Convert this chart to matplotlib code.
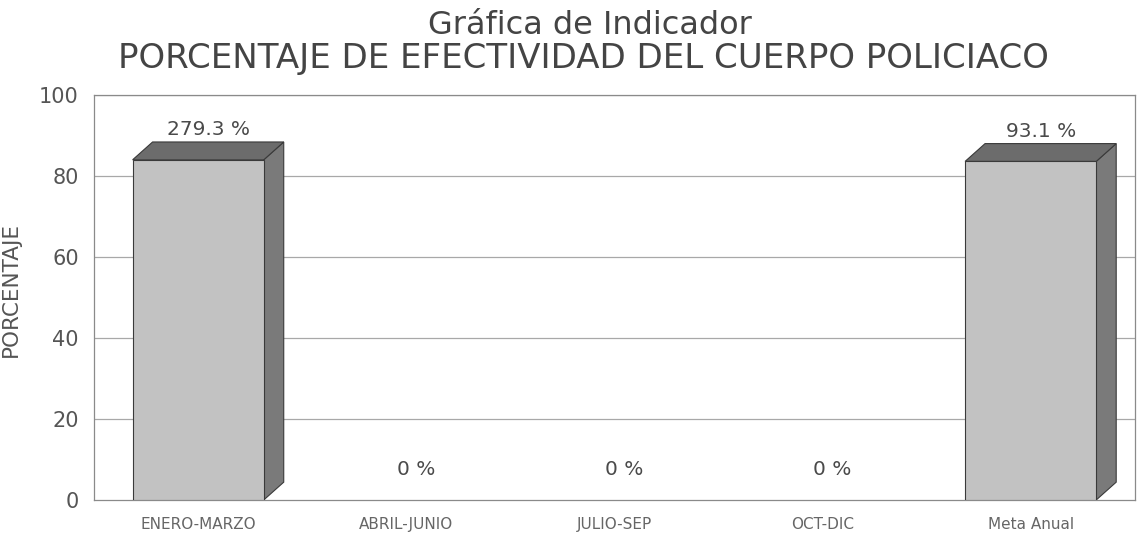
import matplotlib
matplotlib.use("Agg")
import matplotlib.pyplot as plt
from matplotlib.patches import Polygon

categories = ["ENERO-MARZO", "ABRIL-JUNIO", "JULIO-SEP", "OCT-DIC", "Meta Anual"]
bar_heights = [84.0, 0.0, 0.0, 0.0, 83.6]
value_labels = ["279.3 %", "0 %", "0 %", "0 %", "93.1 %"]
y_ticks = [0, 20, 40, 60, 80, 100]

title1 = "Gráfica de Indicador"
title2 = "PORCENTAJE DE EFECTIVIDAD DEL CUERPO POLICIACO"
ylabel = "PORCENTAJE"

fig = plt.figure(figsize=(11.41, 5.51), dpi=100)
ax = fig.add_axes([0.0825, 0.0926, 0.912, 0.735])

x = list(range(len(categories)))
width = 0.63
dx, dy = 0.096, 4.4

ax.set_xlim(-0.5, len(categories) - 0.5)
ax.set_ylim(0, 100)

for yt in y_ticks[1:]:
    ax.axhline(yt, color="#a8a8a8", lw=0.9, zorder=0)

front = "#c2c2c2"
top_c = "#6c6c6c"
side_c = "#7a7a7a"
edge = "#3a3a3a"

bx = [xi for xi, h in zip(x, bar_heights) if h > 0]
bh = [h for h in bar_heights if h > 0]
for xi, h in zip(bx, bh):
    x0 = xi - width / 2
    x1 = xi + width / 2
    ax.add_patch(Polygon([(x1, 0), (x1 + dx, dy), (x1 + dx, h + dy), (x1, h)],
                         closed=True, fc=side_c, ec=edge, lw=0.8, zorder=2))
    ax.add_patch(Polygon([(x0, h), (x0 + dx, h + dy), (x1 + dx, h + dy), (x1, h)],
                         closed=True, fc=top_c, ec=edge, lw=0.8, zorder=2))
ax.bar(bx, bh, width=width, color=front, edgecolor=edge, linewidth=0.8, zorder=3)

for xi, h, lab in zip(x, bar_heights, value_labels):
    ax.text(xi + dx / 2, h + 7.5, lab, ha="center", va="center",
            fontsize=14.5, color="#4a4a4a", zorder=4)

for s in ["left", "top", "right", "bottom"]:
    ax.spines[s].set_color("#8a8a8a")
    ax.spines[s].set_linewidth(0.9)

ax.set_yticks(y_ticks)
ax.set_yticklabels([str(t) for t in y_ticks], fontsize=15, color="#555555")
ax.tick_params(axis="y", length=0, pad=11)
ax.set_xticks(x)
ax.set_xticklabels(categories, fontsize=11, color="#666666")
ax.tick_params(axis="x", length=0, pad=12)
ax.set_ylabel(ylabel, fontsize=15.5, color="#555555", labelpad=12)
ax.yaxis.set_label_coords(-0.07, 0.52)

fig.text(0.517, 0.954, title1, ha="center", va="center", fontsize=23,
         color="#444444")
fig.text(0.511, 0.893, title2, ha="center", va="center", fontsize=24.5,
         color="#444444")

fig.savefig("out.png", dpi=100, facecolor="white")
